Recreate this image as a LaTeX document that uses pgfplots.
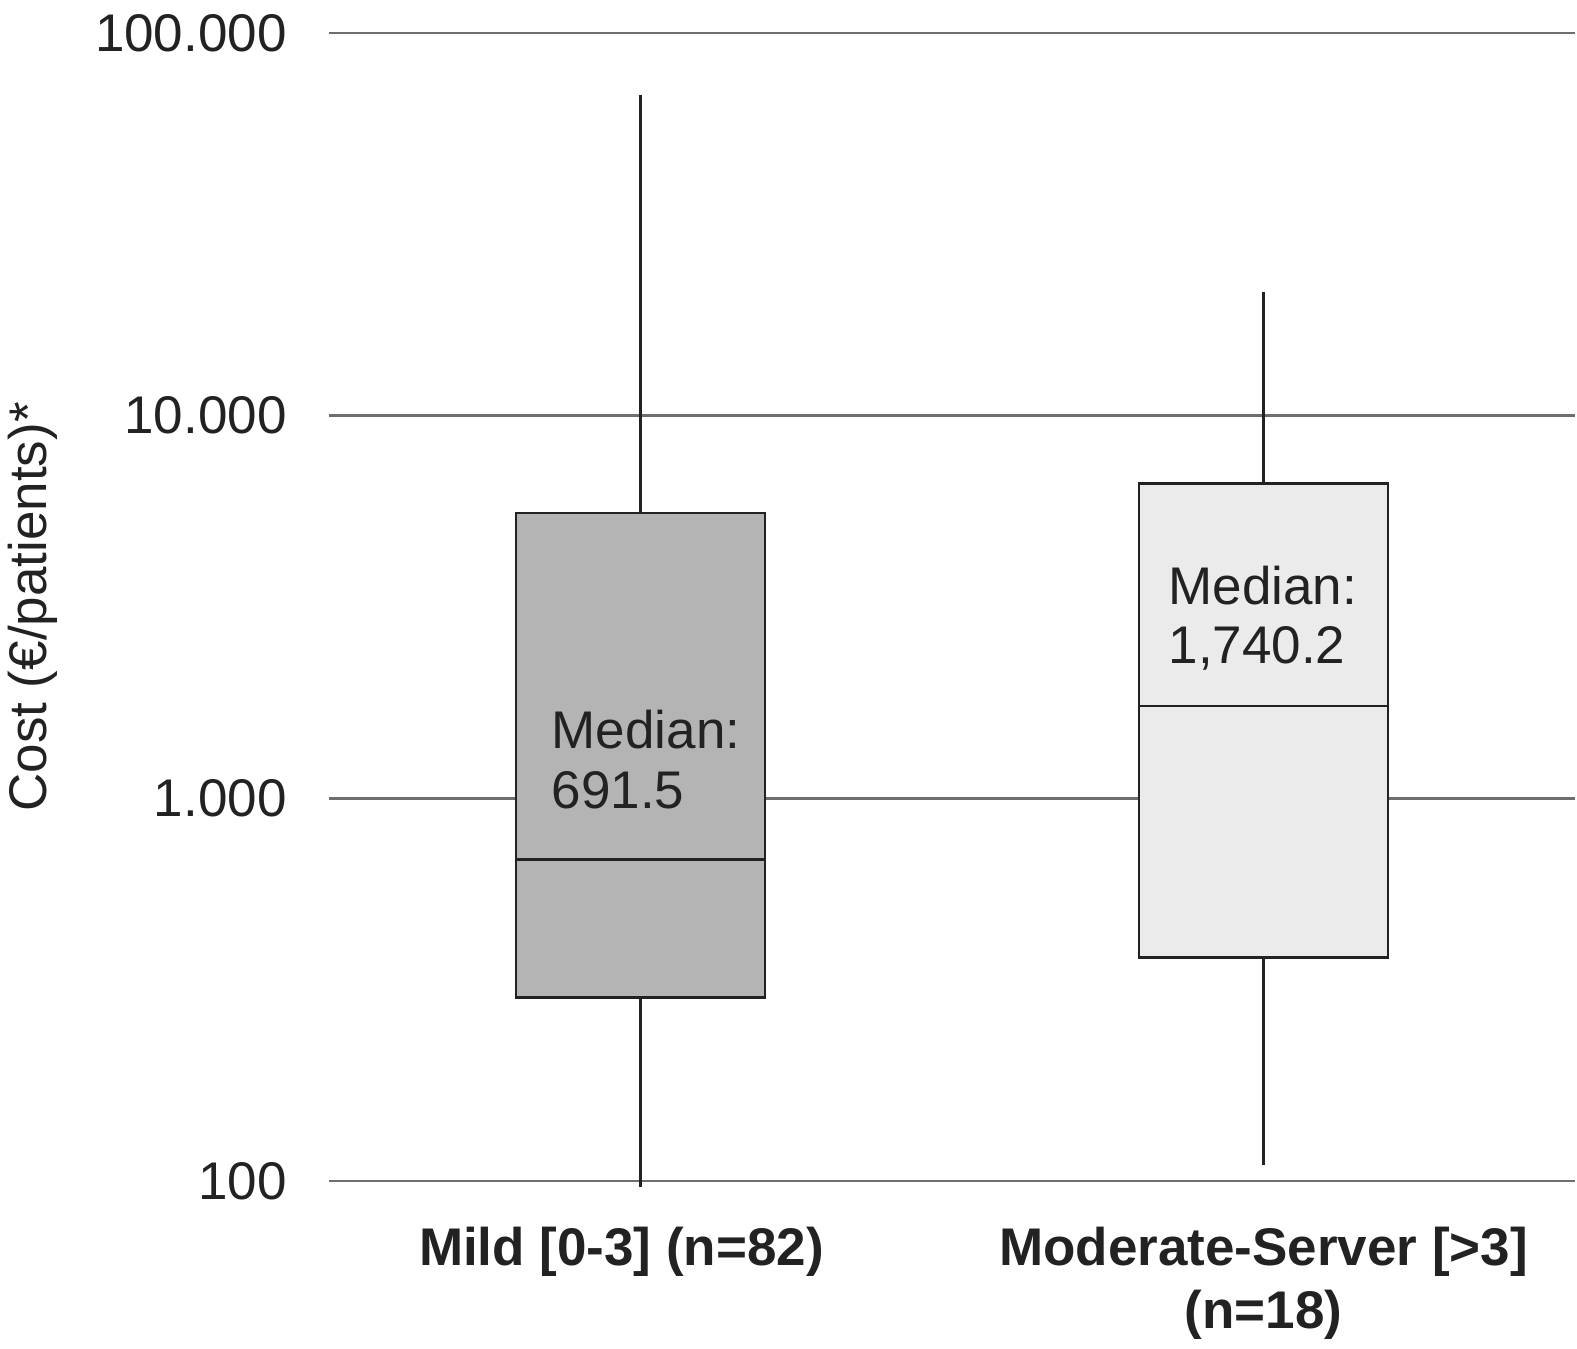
\documentclass[border=0pt]{standalone}
\usepackage{fontspec}
\setmainfont{Liberation Sans}
\usepackage{pgfplots}
\pgfplotsset{compat=1.18}
\definecolor{txt}{HTML}{222222}
\definecolor{gridc}{HTML}{6E6E6E}
\definecolor{boxA}{HTML}{B4B4B4}
\definecolor{boxB}{HTML}{EBEBEB}
\newcommand\bigf{\fontsize{26.5}{31.5}\selectfont}
\begin{document}
\begin{tikzpicture}
\path[use as bounding box] (-164.5pt,-83.5pt) rectangle (624pt,590.5pt);
\begin{axis}[
  at={(0pt,0pt)}, anchor=south west,
  scale only axis, width=623pt, height=574pt,
  xmin=0.5, xmax=2.5, ymin=100, ymax=100000,
  ymode=log, log basis y=10,
  clip=false,
  axis line style={draw=none},
  major tick length=0pt, minor tick length=0pt,
  tick style={draw=none},
  ytick={100,1000,10000,100000},
  yticklabels={100,1.000,10.000,100.000},
  ymajorgrids,
  grid style={gridc, line width=1.3pt},
  yticklabel style={font=\bigf, text=txt, anchor=east, inner sep=0pt, xshift=-21pt},
  xtick={1,2},
  xticklabels={{Mild [0-3] (n=82)\hspace*{19pt}},{Moderate-Server [>3]\\(n=18)}},
  xticklabel style={font=\bigf\bfseries, text=txt, align=center, anchor=north, inner sep=0pt, yshift=-22.7pt},
  ylabel={Cost (€/patients)*},
  ylabel style={font=\bigf, text=txt, at={(axis description cs:-0.238,0.5)}, anchor=center, inner sep=0pt},
]
% Mild: whiskers
\addplot[draw=txt, line width=1.6pt, mark=none] coordinates {(1,96.5) (1,302)};
\addplot[draw=txt, line width=1.6pt, mark=none] coordinates {(1,5560) (1,68900)};
% Mild: box (Q1=302, Q3=5560)
\addplot[draw=txt, fill=boxA, line width=1.2pt, mark=none] coordinates {(0.8,302) (1.2,302) (1.2,5560) (0.8,5560)} -- cycle;
% Mild: median
\addplot[draw=txt, line width=1.2pt, mark=none] coordinates {(0.8,691.5) (1.2,691.5)};
% Moderate-Severe: whiskers
\addplot[draw=txt, line width=1.6pt, mark=none] coordinates {(2,110) (2,384)};
\addplot[draw=txt, line width=1.6pt, mark=none] coordinates {(2,6650) (2,21000)};
% box (Q1=384, Q3=6650)
\addplot[draw=txt, fill=boxB, line width=1.2pt, mark=none] coordinates {(1.8,384) (2.2,384) (2.2,6650) (1.8,6650)} -- cycle;
% median
\addplot[draw=txt, line width=1.2pt, mark=none] coordinates {(1.8,1740.2) (2.2,1740.2)};
\node[anchor=base west, inner sep=0pt, font=\bigf, text=txt] at (axis cs:0.857,1351) {Median:};
\node[anchor=base west, inner sep=0pt, font=\bigf, text=txt] at (axis cs:0.857,942) {691.5};
\node[anchor=base west, inner sep=0pt, font=\bigf, text=txt] at (axis cs:1.847,3213) {Median:};
\node[anchor=base west, inner sep=0pt, font=\bigf, text=txt] at (axis cs:1.847,2254) {1,740.2};
\end{axis}
\end{tikzpicture}
\end{document}
